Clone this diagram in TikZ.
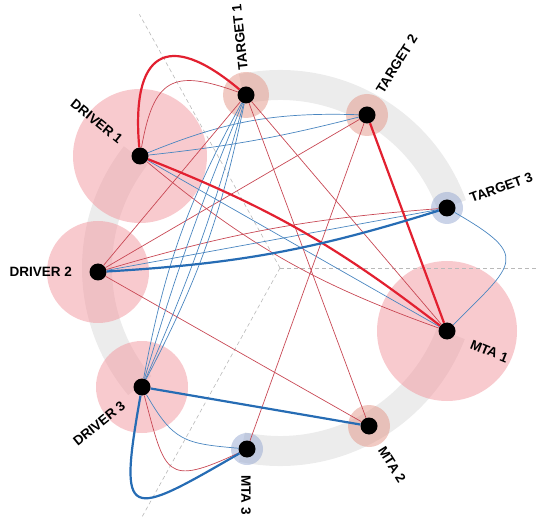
\documentclass[tikz,border=0pt]{standalone}
\usepackage{fontspec}
\setmainfont{Liberation Sans}
\usetikzlibrary{backgrounds}

\definecolor{bandgray}{RGB}{236,236,236}
\definecolor{halopink}{RGB}{242,150,158}
\definecolor{halopeach}{RGB}{228,150,135}
\definecolor{haloblue}{RGB}{150,168,210}
\definecolor{linkred}{RGB}{200,72,84}
\definecolor{strongred}{RGB}{226,32,48}
\definecolor{linkblue}{RGB}{74,134,192}
\definecolor{strongblue}{RGB}{38,108,180}

\begin{document}
\begin{tikzpicture}[x=1pt, y=1pt,
  dot/.style={circle, fill=black, inner sep=0pt, minimum size=17pt},
  lbl/.style={font=\bfseries\fontsize{13.5}{14}\selectfont, inner sep=0pt},
  band/.style={draw=bandgray, line width=30pt},
  ray/.style={draw=gray!55, line width=0.6pt, dash pattern=on 4pt off 3pt},
  halo/.style={fill=#1, fill opacity=0.5},
  weak red/.style={draw=linkred, line width=0.7pt},
  weak blue/.style={draw=linkblue, line width=0.7pt},
  strong red/.style={draw=strongred, line width=2.2pt},
  strong blue/.style={draw=strongblue, line width=2.2pt}]
  \useasboundingbox (0,0) rectangle (537,522);

  \coordinate (hub) at (280,254);
  \node[dot] (t1) at (246,427) {};
  \node[dot] (t2) at (367,407) {};
  \node[dot] (t3) at (447,314) {};
  \node[dot] (m1) at (447,191) {};
  \node[dot] (m2) at (369,96) {};
  \node[dot] (m3) at (247,73) {};
  \node[dot] (d3) at (142,135) {};
  \node[dot] (d2) at (98,250) {};
  \node[dot] (d1) at (140,366) {};

  \node[lbl, rotate=96, anchor=west] (t1-text) at ([shift={(96:25)}]t1.center) {TARGET 1};
  \node[lbl, rotate=58, anchor=west] (t2-text) at ([shift={(62:26)}]t2.center) {TARGET 2};
  \node[lbl, rotate=20, anchor=west] (t3-text) at ([shift={(22:25)}]t3.center) {TARGET 3};
  \node[lbl, rotate=-22, anchor=west] (m1-text) at ([shift={(-28:27)}]m1.center) {MTA 1};
  \node[lbl, rotate=-58, anchor=west] (m2-text) at ([shift={(-60:25)}]m2.center) {MTA 2};
  \node[lbl, rotate=-90, anchor=west] (m3-text) at ([shift={(-92:26)}]m3.center) {MTA 3};
  \node[lbl, rotate=39, anchor=east] (d3-text) at ([shift={(222:25)}]d3.center) {DRIVER 3};
  \node[lbl, anchor=east] (d2-text) at ([shift={(180:26)}]d2.center) {DRIVER 2};
  \node[lbl, rotate=-39, anchor=east] (d1-text) at ([shift={(142:24)}]d1.center) {DRIVER 1};

  \draw[weak red] (d1) to[out=80, in=160, looseness=1.6] (t1);
  \draw[weak blue] (d1) to[bend left=12] (t2);
  \draw[weak blue] (d1) to[bend right=4] (t2);
  \draw[weak blue] (d1) -- (m1);
  \draw[weak red] (d1) to[bend right=10] (m1);
  \draw[weak red] (d2) -- (t1);
  \draw[weak red] (d2) -- (t2);
  \draw[weak red] (d2) to[bend left=6] (t3);
  \draw[weak blue] (d2) -- (t3);
  \draw[weak red] (d2) -- (m2);
  \draw[weak red] (t1) -- (m1);
  \draw[weak red] (t1) -- (m2);
  \draw[weak red] (t2) -- (m3);
  \foreach \b in {8,4,-3,-9}
    \draw[weak blue] (t1) to[bend left=\b] (d3);
  \draw[weak blue] (t3) to[out=-30, in=45, looseness=2] (m1);
  \draw[weak red] (d3) to[out=-75, in=-155, looseness=1.9] (m3);
  \draw[weak blue] (d3) to[out=-60, in=175, looseness=1.3] (m3);

  \draw[strong red] (d1) to[out=95, in=140, looseness=2.1] (t1);
  \draw[strong red] (d1) to[bend left=8] (m1);
  \draw[strong red] (t2) -- (m1);
  \draw[strong blue] (d2) to[bend right=7] (t3);
  \draw[strong blue] (d3) -- (m2);
  \draw[strong blue] (d3) to[out=-100, in=-150, looseness=2.9] (m3);

  \begin{scope}[on background layer]
    \draw[band] ([shift={(102:183)}]hub) arc[start angle=102, end angle=20, radius=183];
    \draw[band] ([shift={(142:183)}]hub) arc[start angle=142, end angle=220, radius=183];
    \draw[band] ([shift={(258:183)}]hub) arc[start angle=258, end angle=339, radius=183];
    \fill[halo=halopink] (d1.center) circle[radius=67];
    \fill[halo=halopink] (d2.center) circle[radius=51];
    \fill[halo=halopink] (d3.center) circle[radius=46];
    \fill[halo=halopink] (m1.center) circle[radius=70];
    \fill[halo=halopeach] (t1.center) circle[radius=23];
    \fill[halo=halopeach] (t2.center) circle[radius=21];
    \fill[halo=halopeach] (m2.center) circle[radius=21];
    \fill[halo=haloblue] (t3.center) circle[radius=16];
    \fill[halo=haloblue] (m3.center) circle[radius=16];
    \draw[ray] (hub) -- ++(0:257);
    \draw[ray] (hub) -- ++(119:290);
    \draw[ray] (hub) -- ++(241:285);
  \end{scope}
\end{tikzpicture}
\end{document}
